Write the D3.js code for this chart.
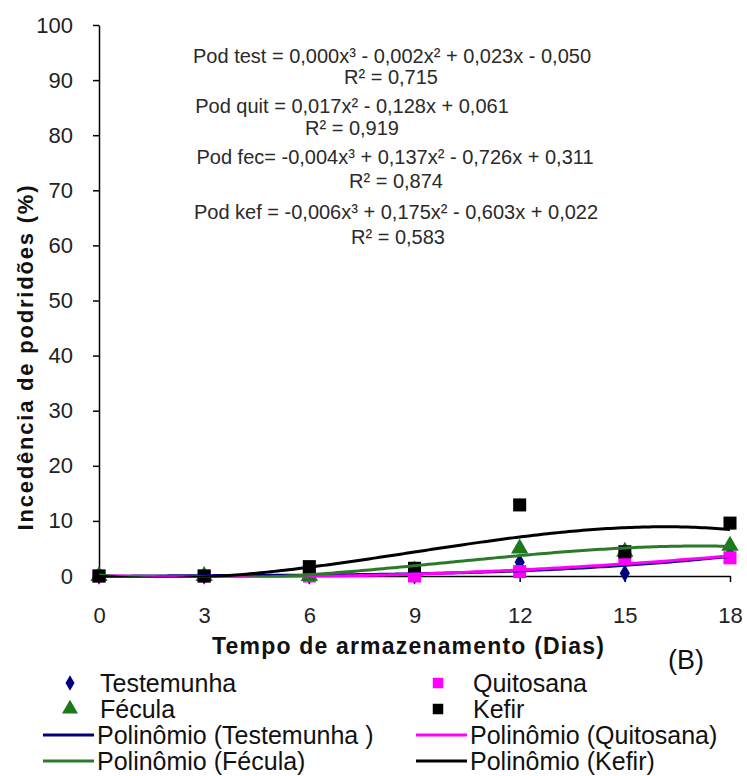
<!DOCTYPE html>
<html>
<head>
<meta charset="utf-8">
<script src="https://cdn.jsdelivr.net/npm/d3@7"></script>
<style>
  html, body { margin: 0; padding: 0; background: #ffffff; }
  svg { display: block; font-family: "Liberation Sans", Arial, sans-serif; }
</style>
</head>
<body>
<svg id="chart" width="747" height="776"></svg>
<script>
// Storage days (x) and rot incidence per treatment (%)
const dias = [0, 3, 6, 9, 12, 15, 18];
const testemunha = [0, 0, 0, 0, 2.5, 0.5, 4];
const quitosana  = [0, 0, 0, 0, 0.8, 3, 3.3];
const fecula     = [0, 0, 0, 1, 5, 4.4, 5.5];
const kefir      = [0, 0, 1.7, 1.4, 12.9, 4.4, 9.6];

const yTicks = [0, 10, 20, 30, 40, 50, 60, 70, 80, 90, 100];
const xTicks = [0, 3, 6, 9, 12, 15, 18];

// Trendline equations printed in the plot area
const equacoes = [
  "Pod test = 0,000x³ - 0,002x² + 0,023x - 0,050",
  "R² = 0,715",
  "Pod quit = 0,017x² - 0,128x + 0,061",
  "R² = 0,919",
  "Pod fec= -0,004x³ + 0,137x² - 0,726x + 0,311",
  "R² = 0,874",
  "Pod kef = -0,006x³ + 0,175x² - 0,603x + 0,022",
  "R² = 0,583"
];

const series = [
  { name: "Testemunha", values: testemunha, degree: 3, marker: "diamond", mColor: "#000080", lColor: "#000080", trend: "Polinômio (Testemunha )" },
  { name: "Quitosana",  values: quitosana,  degree: 2, marker: "square",  mColor: "#ff00ff", lColor: "#ff00ff", trend: "Polinômio (Quitosana)" },
  { name: "Fécula",     values: fecula,     degree: 3, marker: "triangle",mColor: "#1a7a1a", lColor: "#2a7a2a", trend: "Polinômio (Fécula)" },
  { name: "Kefir",      values: kefir,      degree: 3, marker: "square",  mColor: "#000000", lColor: "#000000", trend: "Polinômio (Kefir)" }
];

// Least-squares polynomial fit (normal equations + Gaussian elimination)
function polyfit(xs, ys, deg) {
  const n = deg + 1;
  const A = Array.from({ length: n }, () => new Array(n + 1).fill(0));
  for (let r = 0; r < n; r++) {
    for (let c = 0; c < n; c++) A[r][c] = d3.sum(xs, x => Math.pow(x, r + c));
    A[r][n] = d3.sum(xs, (x, i) => ys[i] * Math.pow(x, r));
  }
  for (let i = 0; i < n; i++) {
    let p = i;
    for (let k = i + 1; k < n; k++) if (Math.abs(A[k][i]) > Math.abs(A[p][i])) p = k;
    [A[i], A[p]] = [A[p], A[i]];
    for (let k = i + 1; k < n; k++) {
      const f = A[k][i] / A[i][i];
      for (let j = i; j <= n; j++) A[k][j] -= f * A[i][j];
    }
  }
  const coef = new Array(n).fill(0);
  for (let i = n - 1; i >= 0; i--) {
    let s = A[i][n];
    for (let j = i + 1; j < n; j++) s -= A[i][j] * coef[j];
    coef[i] = s / A[i][i];
  }
  return x => coef.reduce((acc, c, k) => acc + c * Math.pow(x, k), 0);
}

const svg = d3.select("#chart");
const x = d3.scaleLinear().domain([0, 18]).range([99, 730]);
const y = d3.scaleLinear().domain([0, 100]).range([576, 25]);

// Axes
const yAxis = d3.axisLeft(y).tickValues(yTicks).tickSize(6).tickPadding(20).tickSizeOuter(0);
const gy = svg.append("g").attr("transform", `translate(${x(0)},0)`).call(yAxis);
gy.select(".domain").attr("stroke", "#000").attr("stroke-width", 1.5);
gy.selectAll(".tick line").attr("stroke", "#000").attr("stroke-width", 1.5);
gy.selectAll(".tick text").attr("font-size", 22).attr("fill", "#222")
  .attr("font-family", "Liberation Sans, Arial, sans-serif");

const xAxis = d3.axisBottom(x).tickValues(xTicks).tickSize(6).tickPadding(25).tickSizeOuter(0);
const gx = svg.append("g").attr("transform", `translate(0,${y(0)})`).call(xAxis);
gx.select(".domain").attr("stroke", "#000").attr("stroke-width", 1.5);
gx.selectAll(".tick line").attr("stroke", "#000").attr("stroke-width", 1.5);
gx.selectAll(".tick text").attr("font-size", 22).attr("fill", "#222")
  .attr("font-family", "Liberation Sans, Arial, sans-serif");

// Axis titles
svg.append("text")
  .attr("x", 408).attr("y", 654)
  .attr("text-anchor", "middle").attr("font-size", 23).attr("font-weight", "bold").attr("fill", "#111")
  .attr("textLength", 392).attr("lengthAdjust", "spacing")
  .text("Tempo de armazenamento (Dias)");

svg.append("text")
  .attr("transform", "translate(33,358) rotate(-90)")
  .attr("text-anchor", "middle").attr("font-size", 22).attr("font-weight", "bold").attr("fill", "#111")
  .attr("textLength", 345).attr("lengthAdjust", "spacing")
  .text("Incedência de podridões (%)");

svg.append("text")
  .attr("x", 686).attr("y", 669)
  .attr("text-anchor", "middle").attr("font-size", 27).attr("fill", "#111")
  .text("(B)");

// Equations
const eqPos = [
  { cx: 392, cy: 56 }, { cx: 391, cy: 77 },
  { cx: 352, cy: 106 }, { cx: 352, cy: 128 },
  { cx: 395, cy: 157 }, { cx: 396, cy: 181 },
  { cx: 396, cy: 212 }, { cx: 398, cy: 237 }
];
svg.append("g").selectAll("text").data(equacoes).join("text")
  .attr("x", (d, i) => eqPos[i].cx).attr("y", (d, i) => eqPos[i].cy)
  .attr("dy", "0.35em").attr("text-anchor", "middle")
  .attr("font-size", 20).attr("fill", "#2a2a2a")
  .text(d => d);

// Marker shapes
const symbolFor = {
  diamond: d3.symbol().type(d3.symbolDiamond).size(90),
  square: d3.symbol().type(d3.symbolSquare).size(170),
  triangle: d3.symbol().type(d3.symbolTriangle).size(130)
};

// Data points
series.forEach(s => {
  svg.append("g").selectAll("path").data(s.values).join("path")
    .attr("d", symbolFor[s.marker]())
    .attr("transform", (v, i) => `translate(${x(dias[i])},${y(v)})`)
    .attr("fill", s.mColor);
});

// Polynomial trendlines, clipped to the plot area
svg.append("clipPath").attr("id", "plotclip")
  .append("rect").attr("x", x(0)).attr("y", y(100)).attr("width", x(18) - x(0)).attr("height", y(0) - y(100) + 1.5);

const fine = d3.range(0, 18.001, 0.1);
const line = d3.line().x(d => x(d[0])).y(d => y(d[1])).curve(d3.curveLinear);
series.forEach(s => {
  const f = polyfit(dias, s.values, s.degree);
  svg.append("path")
    .attr("clip-path", "url(#plotclip)")
    .attr("d", line(fine.map(t => [t, f(t)])))
    .attr("fill", "none").attr("stroke", s.lColor).attr("stroke-width", 3);
});

// Legend
const leg = svg.append("g").attr("font-size", 25).attr("fill", "#111");
const cols = [{ mx: 70, lx0: 43, lx1: 94, tx: 97 }, { mx: 438, lx0: 416, lx1: 467, tx: 470 }];
const rows = [683, 709, 735, 761];
series.forEach((s, i) => {
  const c = cols[i % 2], r = rows[Math.floor(i / 2)];
  leg.append("path")
    .attr("d", d3.symbol().type(s.marker === "diamond" ? d3.symbolDiamond : s.marker === "triangle" ? d3.symbolTriangle : d3.symbolSquare)
      .size(s.marker === "diamond" ? 70 : 110)())
    .attr("transform", `translate(${c.mx},${r})`).attr("fill", s.mColor);
  leg.append("text").attr("x", c.tx + 3).attr("y", r).attr("dy", "0.35em").text(s.name);
});
series.forEach((s, i) => {
  const c = cols[i % 2], r = rows[2 + Math.floor(i / 2)];
  leg.append("line").attr("x1", c.lx0).attr("x2", c.lx1).attr("y1", r).attr("y2", r)
    .attr("stroke", s.lColor).attr("stroke-width", 3);
  leg.append("text").attr("x", c.tx).attr("y", r).attr("dy", "0.35em").text(s.trend);
});
</script>
</body>
</html>
